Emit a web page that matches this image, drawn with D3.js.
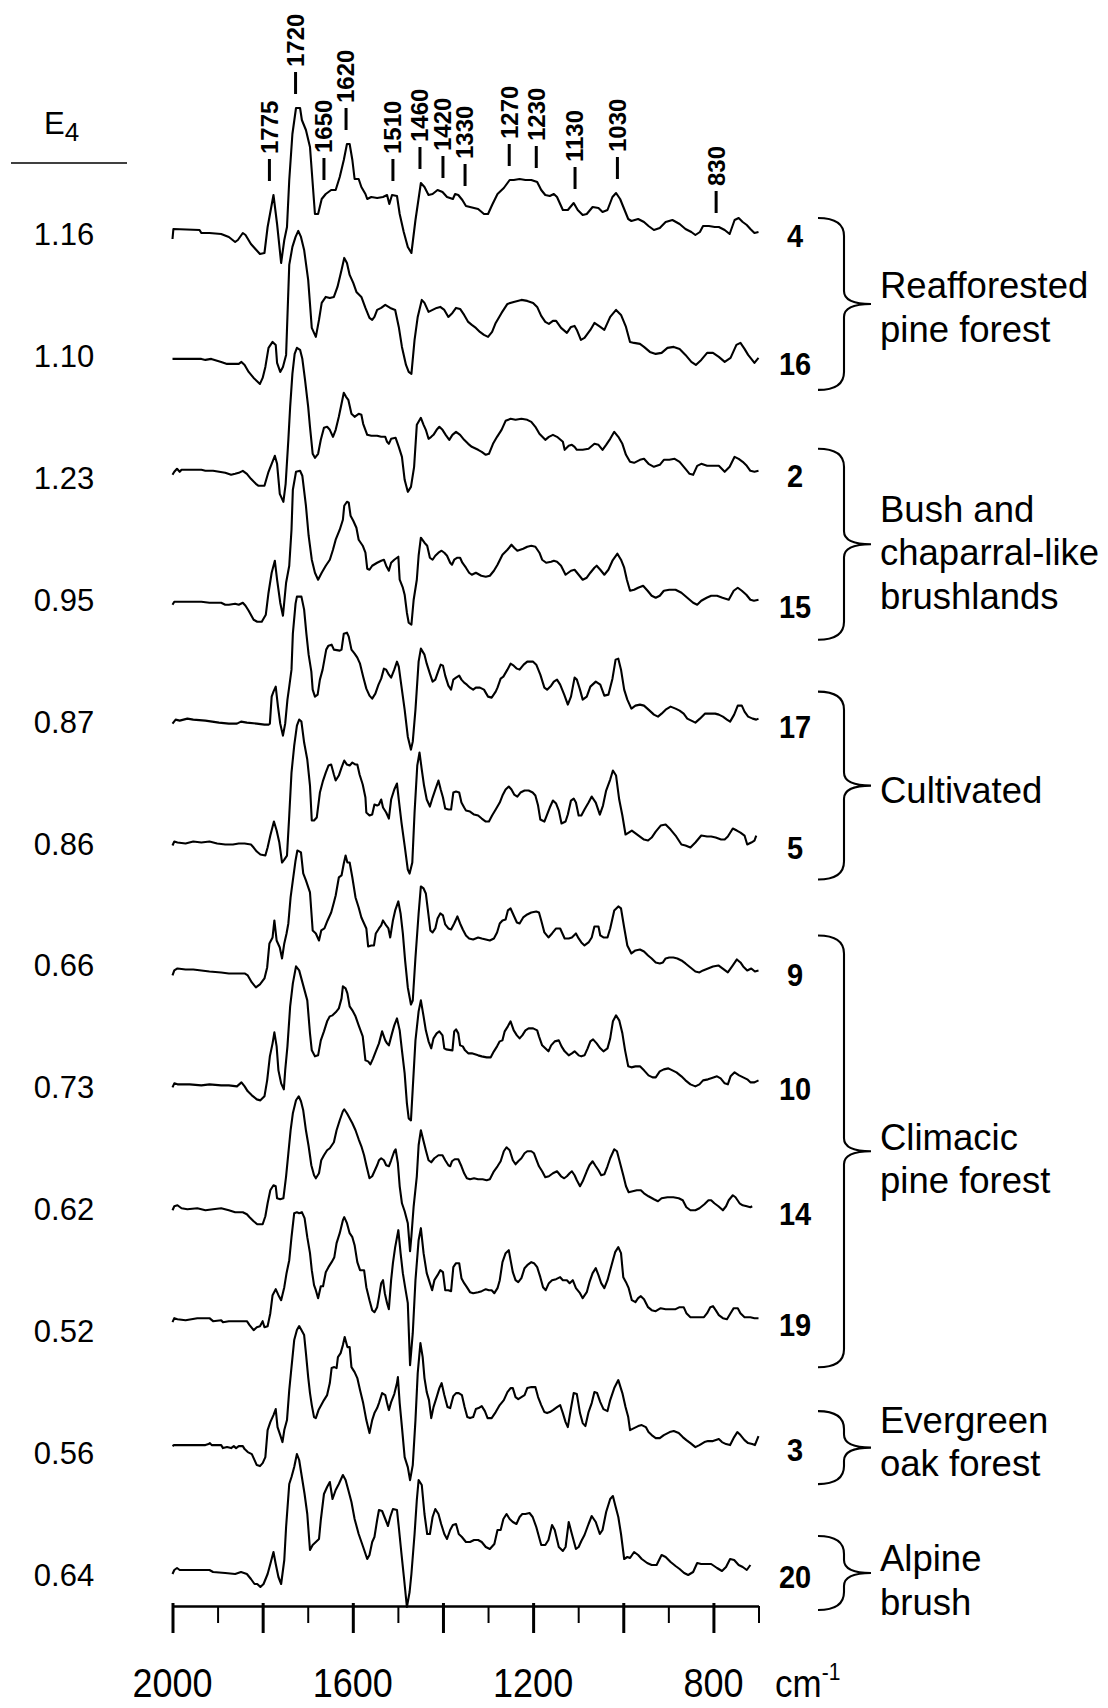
<!DOCTYPE html>
<html>
<head>
<meta charset="utf-8">
<script src="https://cdn.jsdelivr.net/npm/d3@7"></script>
<style>
  body { margin: 0; background: #fff; }
  svg { display: block; }
  text { font-family: "Liberation Sans", Arial, sans-serif; fill: #000; }
</style>
</head>
<body>
<div id="chart"></div>
<script>
// samples, top to bottom
const sampleIds = ["4", "16", "2", "15", "17", "5", "9", "10", "14", "19", "3", "20"];
const e4Values = ["1.16", "1.10", "1.23", "0.95", "0.87", "0.86", "0.66", "0.73", "0.62", "0.52", "0.56", "0.64"];
// small vertical offset of each stacked spectrum (a.u., + = up)
const stackShift = [0, -6, 4, -5, -3, -2, -8, 0, -3, 8, 5, 0];

// land-use groups
const groupNames = [["Reafforested", "pine forest"], ["Bush and", "chaparral-like", "brushlands"], ["Cultivated"],
  ["Climacic", "pine forest"], ["Evergreen", "oak forest"], ["Alpine", "brush"]];
const groupFirst = [0, 2, 4, 6, 10, 11];
const groupLast = [1, 3, 5, 9, 10, 11];

// band markers on top spectrum
const bandLabels = ["1775", "1720", "1650", "1620", "1510", "1460", "1420", "1330", "1270", "1230", "1130", "1030", "830"];
const bandPos = [1785, 1727, 1664, 1615, 1511, 1451, 1400, 1351, 1253, 1193, 1107, 1013, 794];

// axis
const majorTicks = [2000, 1800, 1600, 1400, 1200, 1000, 800];
const minorTicks = [1900, 1700, 1500, 1300, 1100, 900, 700];
const tickLabels = [2000, 1600, 1200, 800];

// spectra: [wavenumber cm-1, intensity a.u.]
const spec4 = [[2000,-8],[1998,2],[1940,1],[1936,-2],[1918,-2],[1892,-3],[1875,-6],[1861,-11],[1855,-9],[1844,-2],[1838,-4],[1826,-13],[1818,-17],[1806,-23],[1796,-22],[1789,4],[1776,36],[1768,7],[1759,-32],[1752,-9],[1746,4],[1741,51],[1734,97],[1726,123],[1717,123],[1713,111],[1704,101],[1695,84],[1684,17],[1677,17],[1669,32],[1660,37],[1648,41],[1638,41],[1629,54],[1620,71],[1613,87],[1607,87],[1601,71],[1596,52],[1587,52],[1581,44],[1572,37],[1568,32],[1559,34],[1546,33],[1533,34],[1524,36],[1519,27],[1513,36],[1502,35],[1496,17],[1487,-1],[1478,-16],[1470,-22],[1461,11],[1449,48],[1441,44],[1432,36],[1423,37],[1412,41],[1401,39],[1391,34],[1378,32],[1373,37],[1366,36],[1357,31],[1349,25],[1340,24],[1322,22],[1309,17],[1300,17],[1291,26],[1279,37],[1265,43],[1252,51],[1243,51],[1230,52],[1217,51],[1204,51],[1191,49],[1182,41],[1173,36],[1163,35],[1154,37],[1147,34],[1134,21],[1123,21],[1110,28],[1101,21],[1090,16],[1081,17],[1068,24],[1055,23],[1046,19],[1035,21],[1024,34],[1016,38],[1007,32],[998,22],[989,12],[982,10],[967,12],[954,9],[944,5],[932,1],[919,3],[906,9],[891,11],[875,7],[862,2],[849,-1],[840,-4],[830,-1],[823,5],[810,5],[797,4],[788,4],[775,1],[764,-3],[753,11],[744,13],[735,9],[726,6],[718,2],[709,-2],[700,-1]];
const spec16 = [[2000,0],[1936,0],[1927,-1],[1914,0],[1892,-3],[1879,-5],[1853,-5],[1847,-3],[1840,-6],[1831,-13],[1820,-19],[1806,-25],[1800,-19],[1794,-8],[1787,11],[1778,17],[1771,14],[1768,-4],[1761,-13],[1755,-8],[1748,4],[1741,94],[1734,112],[1727,122],[1721,128],[1715,122],[1708,109],[1699,79],[1691,31],[1682,22],[1675,39],[1669,56],[1660,62],[1651,61],[1642,62],[1634,72],[1625,89],[1619,101],[1613,96],[1607,84],[1599,76],[1592,67],[1581,62],[1572,51],[1563,41],[1557,39],[1552,42],[1546,49],[1537,51],[1528,54],[1517,51],[1506,49],[1498,32],[1491,12],[1482,-6],[1476,-13],[1470,-15],[1463,19],[1456,42],[1447,59],[1441,56],[1432,47],[1423,49],[1414,51],[1406,52],[1397,49],[1388,42],[1379,46],[1371,51],[1362,50],[1353,44],[1344,37],[1336,34],[1327,31],[1318,27],[1309,24],[1300,22],[1291,27],[1283,36],[1270,46],[1257,55],[1243,57],[1226,59],[1213,58],[1200,56],[1191,52],[1182,43],[1173,37],[1165,35],[1156,38],[1149,38],[1138,31],[1125,26],[1116,32],[1108,33],[1103,29],[1094,19],[1086,21],[1073,29],[1064,36],[1051,32],[1042,29],[1029,42],[1016,49],[1005,44],[994,32],[985,17],[976,16],[963,15],[954,12],[941,7],[928,5],[915,6],[902,11],[888,12],[875,10],[862,4],[849,-3],[839,-6],[827,-1],[814,6],[801,6],[788,2],[775,-3],[762,1],[749,14],[740,16],[731,10],[723,4],[709,-4],[700,1]];
const spec2 = [[2000,-4],[1996,-1],[1990,2],[1984,-1],[1980,1],[1936,1],[1927,0],[1910,0],[1883,-2],[1870,-4],[1861,-3],[1853,-2],[1844,0],[1835,-3],[1826,-8],[1815,-13],[1809,-15],[1796,-15],[1787,-1],[1780,7],[1773,15],[1768,7],[1762,-23],[1754,-31],[1749,-13],[1743,31],[1739,64],[1734,97],[1729,117],[1724,123],[1717,121],[1712,112],[1706,91],[1699,64],[1695,44],[1689,17],[1684,13],[1677,17],[1671,31],[1664,43],[1657,44],[1651,41],[1644,34],[1638,41],[1631,54],[1625,67],[1620,78],[1615,74],[1610,71],[1603,57],[1596,54],[1587,57],[1581,56],[1577,47],[1568,36],[1559,35],[1546,35],[1537,34],[1528,34],[1524,29],[1520,27],[1515,32],[1505,33],[1498,24],[1491,14],[1485,-9],[1478,-21],[1471,-16],[1464,4],[1458,46],[1449,53],[1443,46],[1438,41],[1432,32],[1426,34],[1421,36],[1414,41],[1408,44],[1401,41],[1394,36],[1386,31],[1379,36],[1371,39],[1362,36],[1353,31],[1344,27],[1336,24],[1322,21],[1314,19],[1305,16],[1298,17],[1289,27],[1280,34],[1270,41],[1261,50],[1250,52],[1239,51],[1226,52],[1213,51],[1204,49],[1195,44],[1186,37],[1173,31],[1165,34],[1156,36],[1147,34],[1134,29],[1130,21],[1121,25],[1114,26],[1108,24],[1103,21],[1090,21],[1077,22],[1064,27],[1055,26],[1046,21],[1038,26],[1029,32],[1020,39],[1011,34],[1002,27],[994,16],[985,9],[976,8],[963,11],[954,12],[944,7],[932,4],[919,6],[910,11],[898,11],[886,12],[875,9],[862,2],[853,-3],[845,-4],[836,5],[827,7],[814,5],[801,5],[788,5],[775,-1],[764,4],[753,14],[744,12],[735,9],[726,5],[718,0],[709,-1],[700,0]];
const spec15 = [[2000,-3],[1996,0],[1936,0],[1918,-1],[1892,-1],[1883,-3],[1875,-3],[1861,-2],[1853,-3],[1844,-1],[1838,-4],[1831,-9],[1820,-18],[1812,-20],[1802,-20],[1793,-13],[1787,9],[1780,29],[1773,41],[1768,22],[1761,-1],[1755,-14],[1748,19],[1741,36],[1736,72],[1733,112],[1726,130],[1717,131],[1712,126],[1704,96],[1698,66],[1691,42],[1684,29],[1677,22],[1669,29],[1660,36],[1651,42],[1644,52],[1638,62],[1629,72],[1622,82],[1619,96],[1613,100],[1609,99],[1605,86],[1599,81],[1592,74],[1587,62],[1578,56],[1572,49],[1568,33],[1563,32],[1557,36],[1546,39],[1537,41],[1531,42],[1526,36],[1520,31],[1515,39],[1508,42],[1499,45],[1496,22],[1489,14],[1485,7],[1480,-11],[1476,-21],[1470,-23],[1465,2],[1458,22],[1454,46],[1449,64],[1441,59],[1435,56],[1429,44],[1423,42],[1417,46],[1410,49],[1403,51],[1397,49],[1391,46],[1384,39],[1380,37],[1375,42],[1368,44],[1362,44],[1357,39],[1349,34],[1342,29],[1336,27],[1327,29],[1315,26],[1305,25],[1296,26],[1287,31],[1279,37],[1268,47],[1257,52],[1248,57],[1242,54],[1235,51],[1222,53],[1213,55],[1204,56],[1195,55],[1186,49],[1180,42],[1171,39],[1160,40],[1154,41],[1147,40],[1138,36],[1128,27],[1116,31],[1108,32],[1099,27],[1090,22],[1081,24],[1073,29],[1064,34],[1059,36],[1051,32],[1042,27],[1033,32],[1024,41],[1013,48],[1005,42],[998,34],[992,22],[985,11],[976,12],[967,14],[956,16],[946,11],[937,6],[928,4],[919,6],[910,11],[898,12],[884,12],[871,9],[858,4],[845,-1],[836,-3],[827,1],[815,4],[805,6],[792,6],[780,4],[766,2],[755,11],[746,14],[737,11],[727,7],[718,2],[710,1],[700,2]];
const spec17 = [[2000,-2],[1993,2],[1984,1],[1967,3],[1954,2],[1927,1],[1897,-1],[1875,-2],[1857,-2],[1848,0],[1835,-1],[1813,-2],[1796,-3],[1787,-3],[1784,-2],[1780,25],[1776,30],[1771,35],[1766,15],[1761,-2],[1755,-14],[1750,-2],[1745,22],[1741,35],[1736,52],[1733,88],[1727,118],[1724,125],[1714,125],[1708,112],[1703,88],[1698,67],[1692,50],[1689,32],[1684,25],[1678,27],[1673,42],[1667,52],[1663,62],[1659,72],[1654,76],[1647,77],[1642,72],[1629,71],[1625,72],[1620,88],[1613,89],[1609,85],[1603,72],[1596,68],[1590,64],[1584,58],[1577,45],[1570,33],[1563,26],[1557,23],[1550,28],[1543,37],[1537,43],[1531,53],[1526,52],[1520,47],[1515,44],[1508,52],[1502,60],[1498,55],[1492,35],[1485,12],[1478,-15],[1471,-28],[1467,-20],[1461,12],[1454,60],[1449,73],[1441,67],[1436,58],[1429,48],[1423,40],[1417,42],[1410,51],[1405,57],[1400,56],[1395,46],[1388,36],[1382,32],[1377,42],[1371,44],[1364,46],[1359,42],[1353,39],[1347,37],[1340,34],[1333,32],[1327,34],[1318,34],[1309,32],[1300,25],[1292,24],[1283,30],[1279,34],[1272,43],[1266,45],[1257,52],[1250,58],[1243,56],[1236,53],[1230,52],[1221,57],[1213,60],[1200,60],[1193,57],[1184,47],[1175,34],[1169,32],[1160,36],[1154,40],[1147,42],[1140,37],[1131,27],[1123,17],[1116,25],[1108,44],[1103,42],[1096,32],[1090,22],[1081,25],[1073,35],[1061,40],[1051,37],[1042,26],[1033,27],[1024,43],[1017,62],[1011,63],[1005,52],[998,32],[991,22],[982,13],[973,16],[963,17],[954,16],[944,12],[932,7],[923,5],[915,8],[906,12],[895,15],[884,13],[875,11],[866,8],[858,3],[849,1],[840,-1],[830,3],[819,8],[807,8],[796,8],[788,7],[779,5],[770,2],[763,0],[754,7],[746,16],[737,16],[731,10],[723,5],[713,3],[705,2],[700,3]];
const spec5 = [[2000,-3],[1996,1],[1989,0],[1971,-1],[1954,1],[1936,0],[1918,1],[1901,-1],[1883,-2],[1866,-2],[1853,-1],[1840,-1],[1826,-2],[1820,-5],[1813,-9],[1805,-12],[1794,-13],[1789,-5],[1783,7],[1775,21],[1769,12],[1763,0],[1757,-20],[1752,-17],[1746,-13],[1741,27],[1736,70],[1730,97],[1724,117],[1719,123],[1714,121],[1708,100],[1701,83],[1695,57],[1691,22],[1686,22],[1680,25],[1673,50],[1666,62],[1660,70],[1654,77],[1648,78],[1642,68],[1638,62],[1631,67],[1625,75],[1619,82],[1613,78],[1607,77],[1601,80],[1594,78],[1590,78],[1585,68],[1578,58],[1572,45],[1570,30],[1563,27],[1557,28],[1552,38],[1546,37],[1542,38],[1537,43],[1533,35],[1526,30],[1520,24],[1515,43],[1508,53],[1502,59],[1498,43],[1492,20],[1485,-3],[1478,-27],[1474,-31],[1468,-20],[1463,30],[1457,77],[1452,90],[1447,73],[1442,57],[1436,43],[1429,36],[1423,45],[1417,53],[1410,62],[1405,53],[1400,45],[1395,34],[1388,33],[1382,33],[1377,50],[1371,51],[1364,50],[1359,40],[1353,35],[1349,32],[1340,31],[1331,28],[1322,27],[1314,24],[1305,21],[1298,21],[1291,27],[1283,33],[1274,40],[1268,47],[1261,53],[1254,56],[1248,53],[1242,48],[1235,46],[1228,50],[1219,52],[1210,52],[1201,50],[1195,47],[1189,37],[1184,23],[1175,21],[1169,28],[1163,35],[1156,42],[1149,39],[1143,32],[1137,19],[1128,21],[1123,28],[1116,42],[1110,44],[1105,40],[1099,27],[1093,27],[1086,33],[1077,40],[1070,46],[1061,40],[1052,28],[1045,37],[1038,52],[1029,63],[1023,72],[1016,67],[1009,43],[1002,27],[995,8],[988,10],[981,12],[972,9],[963,6],[954,3],[945,2],[937,5],[928,11],[917,17],[906,18],[895,13],[884,7],[871,-2],[862,-3],[851,-5],[840,0],[827,7],[814,6],[805,6],[795,5],[783,3],[775,3],[768,6],[757,14],[748,12],[740,10],[731,7],[725,-2],[716,0],[709,2],[705,7]];
const spec9 = [[2000,-5],[1996,0],[1989,2],[1971,1],[1954,1],[1936,0],[1918,-1],[1892,-2],[1875,-3],[1840,-3],[1833,-5],[1824,-12],[1815,-17],[1806,-14],[1796,-8],[1790,3],[1785,27],[1778,33],[1774,50],[1769,30],[1762,23],[1757,12],[1752,27],[1747,37],[1743,47],[1738,73],[1733,90],[1727,110],[1723,120],[1715,118],[1710,97],[1704,90],[1695,78],[1689,40],[1682,37],[1675,30],[1670,40],[1663,42],[1656,50],[1648,58],[1642,68],[1638,75],[1631,93],[1625,95],[1620,107],[1616,115],[1612,108],[1607,108],[1601,93],[1594,73],[1587,63],[1581,53],[1575,47],[1570,42],[1566,24],[1559,25],[1553,25],[1549,37],[1542,42],[1537,45],[1533,50],[1526,45],[1521,42],[1517,33],[1511,50],[1506,60],[1499,69],[1494,57],[1489,37],[1484,10],[1478,-17],[1471,-34],[1467,-30],[1461,13],[1454,57],[1449,84],[1443,82],[1438,77],[1432,55],[1428,40],[1423,38],[1417,42],[1412,52],[1406,57],[1400,55],[1395,46],[1388,42],[1382,41],[1375,47],[1368,54],[1362,47],[1356,41],[1349,35],[1342,32],[1333,31],[1322,33],[1314,32],[1305,31],[1296,30],[1287,32],[1280,38],[1274,47],[1268,50],[1261,51],[1256,60],[1250,62],[1243,55],[1236,48],[1230,47],[1222,53],[1213,56],[1204,58],[1193,59],[1187,58],[1182,50],[1175,38],[1166,33],[1158,37],[1149,42],[1140,42],[1134,36],[1130,32],[1121,32],[1114,33],[1105,37],[1099,32],[1093,28],[1086,25],[1077,28],[1070,33],[1064,44],[1055,44],[1051,35],[1044,33],[1035,33],[1029,42],[1020,60],[1011,64],[1005,62],[998,43],[991,25],[982,17],[973,20],[963,21],[954,19],[945,15],[937,12],[928,8],[919,7],[912,8],[906,12],[898,13],[889,13],[880,12],[871,10],[862,7],[851,3],[840,-1],[831,-2],[823,0],[812,2],[801,4],[789,5],[780,2],[768,-2],[757,5],[748,11],[740,8],[734,4],[725,0],[716,2],[708,-1],[700,0]];
const spec10 = [[2000,-3],[1996,1],[1989,0],[1962,0],[1936,-1],[1918,0],[1892,-1],[1875,-1],[1857,-2],[1847,2],[1840,-2],[1833,-7],[1824,-11],[1813,-15],[1805,-16],[1796,-12],[1790,4],[1784,28],[1778,41],[1774,52],[1769,38],[1765,14],[1759,1],[1753,-5],[1750,14],[1745,38],[1739,78],[1733,101],[1726,118],[1719,114],[1713,104],[1707,94],[1701,84],[1695,51],[1691,34],[1684,28],[1677,29],[1671,44],[1664,53],[1657,63],[1651,68],[1645,69],[1638,72],[1631,76],[1625,86],[1622,98],[1616,96],[1612,91],[1607,78],[1601,74],[1594,68],[1587,59],[1578,48],[1572,24],[1566,23],[1561,20],[1555,26],[1549,33],[1542,41],[1535,53],[1528,44],[1524,41],[1520,39],[1513,51],[1508,59],[1502,66],[1496,54],[1491,34],[1485,11],[1480,-19],[1476,-34],[1471,-36],[1467,-4],[1461,44],[1454,73],[1449,84],[1443,68],[1438,54],[1432,43],[1426,36],[1421,46],[1414,51],[1408,53],[1401,49],[1397,36],[1393,35],[1379,34],[1375,53],[1371,55],[1366,51],[1362,39],[1356,38],[1351,34],[1344,31],[1336,31],[1322,29],[1314,28],[1303,27],[1294,27],[1287,33],[1280,38],[1274,43],[1268,44],[1263,53],[1256,58],[1250,63],[1243,54],[1236,49],[1230,46],[1224,49],[1217,54],[1210,56],[1200,56],[1191,54],[1187,48],[1180,39],[1173,36],[1166,33],[1160,39],[1152,43],[1143,44],[1137,38],[1130,33],[1121,29],[1114,31],[1108,33],[1099,29],[1093,28],[1086,29],[1079,36],[1073,43],[1067,45],[1059,41],[1051,36],[1044,33],[1035,36],[1029,46],[1023,63],[1016,69],[1009,64],[1002,51],[996,34],[989,18],[982,17],[973,18],[963,18],[954,14],[944,9],[935,7],[928,7],[919,13],[910,15],[900,16],[891,14],[882,12],[871,8],[862,4],[851,0],[840,-2],[831,0],[823,4],[812,5],[805,6],[792,8],[784,6],[775,1],[768,0],[762,8],[753,12],[743,9],[734,7],[725,5],[718,2],[709,2],[700,4]];
const spec14 = [[2000,-1],[1996,3],[1989,4],[1980,1],[1967,0],[1945,1],[1927,-1],[1910,0],[1892,1],[1875,-1],[1861,-3],[1844,-3],[1835,-5],[1829,-8],[1820,-12],[1812,-15],[1800,-15],[1794,-7],[1789,6],[1783,19],[1776,24],[1771,23],[1768,11],[1761,10],[1754,11],[1748,33],[1743,56],[1738,79],[1733,96],[1726,109],[1720,113],[1715,108],[1710,99],[1704,79],[1698,63],[1692,44],[1686,34],[1682,31],[1675,36],[1670,49],[1664,54],[1657,59],[1651,61],[1642,67],[1636,79],[1629,89],[1622,98],[1619,100],[1613,96],[1607,91],[1601,86],[1594,79],[1587,70],[1581,63],[1575,54],[1570,44],[1563,31],[1557,33],[1552,38],[1546,44],[1542,49],[1537,51],[1531,49],[1526,44],[1520,43],[1515,49],[1508,58],[1505,60],[1500,46],[1496,23],[1491,6],[1485,-2],[1478,-14],[1473,-42],[1470,-27],[1465,3],[1458,33],[1454,64],[1449,79],[1443,68],[1438,59],[1432,49],[1426,47],[1419,51],[1410,54],[1401,54],[1395,49],[1388,44],[1384,43],[1380,48],[1374,50],[1366,50],[1359,43],[1353,36],[1347,31],[1340,30],[1331,31],[1322,30],[1312,30],[1303,29],[1296,30],[1287,38],[1279,43],[1272,48],[1265,58],[1259,62],[1252,59],[1245,49],[1239,45],[1233,48],[1226,51],[1219,56],[1213,58],[1204,58],[1198,56],[1193,50],[1187,43],[1180,38],[1173,32],[1165,33],[1156,36],[1147,38],[1138,33],[1131,31],[1125,33],[1119,36],[1114,38],[1108,34],[1103,29],[1096,23],[1090,28],[1081,38],[1075,44],[1068,48],[1061,43],[1055,39],[1049,34],[1042,35],[1035,43],[1029,51],[1020,60],[1014,58],[1007,46],[1000,34],[994,23],[988,17],[979,18],[970,19],[961,19],[954,16],[944,13],[932,10],[923,8],[915,11],[902,12],[889,12],[877,11],[868,9],[860,2],[851,-1],[840,-1],[831,1],[820,5],[811,9],[805,9],[798,6],[789,3],[779,-1],[772,3],[766,9],[757,14],[751,12],[742,6],[735,4],[726,3],[718,2],[714,3]];
const spec19 = [[2000,-2],[1996,2],[1989,1],[1971,0],[1945,2],[1936,2],[1918,2],[1910,-1],[1892,0],[1888,-2],[1875,-1],[1835,-1],[1829,-5],[1820,-10],[1813,-7],[1806,-6],[1800,-1],[1796,-7],[1789,-6],[1783,7],[1778,25],[1771,31],[1765,25],[1759,20],[1752,33],[1747,47],[1741,60],[1736,83],[1730,107],[1724,108],[1719,107],[1713,108],[1707,102],[1701,83],[1695,67],[1691,50],[1686,35],[1682,30],[1677,22],[1671,34],[1666,34],[1660,48],[1654,53],[1647,58],[1641,63],[1636,77],[1629,87],[1622,100],[1619,103],[1613,97],[1607,87],[1601,83],[1596,75],[1590,58],[1584,50],[1575,50],[1570,33],[1563,20],[1557,10],[1552,8],[1546,13],[1542,23],[1537,37],[1533,40],[1529,27],[1524,17],[1520,11],[1515,40],[1511,57],[1506,73],[1499,90],[1494,67],[1489,47],[1484,33],[1478,17],[1473,-45],[1467,-13],[1461,40],[1454,80],[1449,92],[1443,67],[1436,47],[1429,37],[1424,30],[1419,40],[1412,45],[1406,50],[1400,48],[1395,30],[1388,30],[1382,29],[1377,53],[1371,57],[1364,57],[1359,42],[1353,37],[1347,33],[1340,28],[1333,27],[1322,28],[1314,29],[1305,31],[1298,30],[1292,30],[1286,27],[1279,32],[1274,40],[1268,58],[1261,67],[1254,70],[1250,60],[1245,48],[1239,40],[1233,38],[1226,42],[1219,52],[1213,55],[1204,58],[1198,57],[1191,53],[1184,43],[1178,33],[1172,30],[1165,37],[1158,40],[1149,41],[1140,43],[1134,40],[1125,40],[1119,37],[1112,40],[1105,32],[1096,27],[1090,22],[1081,28],[1075,38],[1068,47],[1061,52],[1055,45],[1049,37],[1042,32],[1035,40],[1029,50],[1023,60],[1018,68],[1011,73],[1005,67],[1000,43],[994,38],[988,32],[981,20],[973,18],[967,22],[961,24],[954,21],[945,13],[937,10],[928,9],[917,12],[906,11],[895,11],[884,11],[875,13],[866,13],[860,7],[851,3],[840,3],[830,3],[821,3],[814,7],[807,13],[801,14],[795,10],[788,5],[779,2],[770,1],[762,7],[755,12],[746,12],[740,7],[731,3],[718,3],[709,2],[700,2]];
const spec3 = [[2000,-1],[1997,0],[1927,0],[1920,1],[1917,2],[1913,0],[1892,0],[1888,-3],[1879,-2],[1870,-3],[1864,-1],[1859,-3],[1853,-1],[1844,-1],[1840,-4],[1833,-7],[1824,-9],[1818,-15],[1813,-20],[1806,-21],[1800,-18],[1794,-12],[1789,15],[1783,23],[1776,30],[1771,36],[1767,18],[1761,10],[1756,3],[1752,15],[1746,25],[1741,55],[1736,78],[1730,105],[1724,115],[1719,119],[1714,115],[1708,110],[1704,92],[1699,68],[1695,52],[1691,40],[1686,28],[1682,27],[1676,35],[1670,40],[1664,45],[1657,50],[1651,62],[1647,77],[1641,78],[1636,77],[1633,88],[1627,92],[1622,100],[1618,108],[1612,98],[1607,98],[1603,78],[1596,73],[1590,67],[1584,55],[1577,42],[1570,25],[1563,12],[1557,25],[1552,32],[1546,37],[1542,42],[1535,52],[1528,50],[1524,42],[1520,35],[1515,43],[1508,51],[1502,62],[1500,68],[1496,42],[1491,18],[1485,-12],[1478,-22],[1473,-35],[1467,-20],[1461,25],[1456,72],[1450,102],[1445,88],[1441,67],[1436,53],[1431,45],[1426,27],[1421,38],[1414,48],[1408,57],[1403,62],[1397,50],[1390,38],[1384,37],[1377,49],[1371,52],[1365,52],[1358,50],[1352,38],[1346,28],[1340,27],[1333,28],[1327,36],[1321,37],[1314,39],[1307,34],[1301,27],[1292,27],[1283,33],[1274,40],[1265,45],[1257,53],[1250,57],[1245,57],[1239,48],[1233,46],[1226,48],[1219,50],[1213,57],[1204,58],[1195,58],[1189,48],[1182,40],[1175,33],[1169,32],[1163,33],[1156,35],[1147,38],[1140,40],[1134,32],[1128,23],[1123,18],[1116,37],[1110,52],[1103,51],[1096,32],[1090,22],[1084,19],[1077,33],[1070,42],[1064,53],[1058,52],[1051,43],[1044,36],[1035,34],[1029,45],[1020,57],[1011,65],[1002,52],[995,38],[989,28],[985,15],[976,17],[967,19],[959,20],[950,18],[944,13],[937,10],[928,7],[919,7],[910,10],[897,13],[888,14],[877,12],[868,8],[860,5],[851,2],[840,-2],[831,0],[820,3],[812,4],[801,4],[788,6],[781,3],[772,1],[763,0],[754,8],[747,13],[740,10],[731,5],[723,2],[714,1],[708,0],[700,9]];
const spec20 = [[2000,-2],[1996,2],[1990,4],[1984,2],[1918,2],[1910,0],[1883,-1],[1861,-2],[1848,0],[1835,-2],[1826,-7],[1818,-12],[1812,-12],[1805,-15],[1798,-12],[1789,-2],[1783,8],[1776,20],[1771,8],[1765,-5],[1759,-12],[1752,12],[1748,45],[1741,88],[1736,95],[1730,105],[1724,118],[1719,112],[1713,95],[1707,78],[1701,58],[1695,22],[1689,27],[1682,30],[1675,33],[1671,52],[1664,78],[1657,85],[1651,90],[1645,73],[1638,82],[1631,88],[1622,97],[1616,92],[1610,82],[1603,70],[1596,53],[1587,38],[1577,25],[1568,13],[1563,17],[1557,30],[1552,35],[1546,52],[1542,62],[1535,61],[1528,53],[1522,46],[1517,55],[1511,63],[1502,62],[1498,45],[1492,18],[1486,-8],[1480,-35],[1474,-20],[1470,-2],[1463,38],[1458,72],[1454,92],[1447,87],[1441,58],[1435,38],[1429,38],[1423,55],[1417,63],[1410,58],[1404,48],[1397,38],[1391,33],[1384,42],[1378,47],[1371,48],[1365,38],[1358,35],[1349,30],[1340,30],[1331,32],[1322,32],[1314,30],[1305,25],[1296,23],[1286,28],[1279,42],[1272,42],[1266,53],[1259,58],[1252,53],[1245,50],[1237,48],[1230,55],[1224,58],[1217,58],[1208,59],[1201,55],[1193,45],[1182,27],[1173,27],[1166,32],[1158,47],[1152,42],[1143,25],[1134,21],[1128,25],[1121,50],[1114,38],[1105,23],[1099,25],[1093,31],[1086,37],[1077,48],[1070,56],[1061,50],[1052,38],[1046,42],[1038,60],[1029,73],[1023,76],[1018,67],[1011,55],[1005,38],[998,13],[991,15],[985,14],[976,20],[967,17],[959,13],[947,9],[937,7],[926,7],[915,17],[906,15],[895,10],[884,6],[875,3],[865,-1],[856,-3],[845,0],[836,9],[827,8],[814,8],[805,8],[792,4],[781,1],[772,5],[763,13],[754,12],[744,7],[735,5],[726,2],[718,7]];

const spectra = [spec4, spec16, spec2, spec15, spec17, spec5, spec9, spec10, spec14, spec19, spec3, spec20];

const W = 1108, H = 1708;
const svg = d3.select("#chart").append("svg").attr("width", W).attr("height", H);

const x = d3.scaleLinear().domain([2000, 700]).range([172.5, 758.5]);
const row = d3.scalePoint().domain(d3.range(sampleIds.length)).range([231, 1572]);
const amp = d3.scaleLinear().domain([0, 100]).range([0, -100]);
const baseY = i => row(i) + amp(stackShift[i]);

// spectra
const line = d3.line().x(d => x(d[0])).y(d => amp(d[1]));
svg.append("g").selectAll("path")
  .data(spectra)
  .join("path")
  .attr("transform", (d, i) => "translate(0," + baseY(i) + ")")
  .attr("d", line)
  .attr("fill", "none")
  .attr("stroke", "#000")
  .attr("stroke-width", 2.1)
  .attr("stroke-linejoin", "round");

// band markers above top spectrum
const marks = svg.append("g");
bandPos.forEach((p, k) => {
  const near = spec4.filter(d => Math.abs(d[0] - p) <= 10).map(d => d[1]);
  const yb = baseY(0) + amp(d3.max(near)) - 14;
  marks.append("line")
    .attr("x1", x(p)).attr("x2", x(p))
    .attr("y1", yb).attr("y2", yb - 22)
    .attr("stroke", "#000").attr("stroke-width", 3);
  marks.append("text")
    .attr("transform", "translate(" + x(p) + "," + (yb - 27) + ") rotate(-90)")
    .attr("dy", "0.35em")
    .style("font-size", "24px")
    .style("font-weight", "bold")
    .text(bandLabels[k]);
});

// E4 header and values
const hdr = svg.append("text").attr("x", 44).attr("y", 134).style("font-size", "31px");
hdr.append("tspan").text("E");
hdr.append("tspan").attr("dy", 7).style("font-size", "26px").text("4");
svg.append("line").attr("x1", 11).attr("x2", 127).attr("y1", 163).attr("y2", 163)
  .attr("stroke", "#000").attr("stroke-width", 1.5);

svg.append("g").selectAll("text")
  .data(e4Values)
  .join("text")
  .attr("x", 64)
  .attr("y", (d, i) => row(i) + 14)
  .attr("text-anchor", "middle")
  .style("font-size", "31px")
  .text(d => d);

// sample numbers
svg.append("g").selectAll("text")
  .data(sampleIds)
  .join("text")
  .attr("transform", (d, i) => "translate(795," + (baseY(i) + 16) + ") scale(1,1.1)")
  .attr("text-anchor", "middle")
  .style("font-size", "29px")
  .style("font-weight", "bold")
  .text(d => d);

// braces + group names (padding per brace and label nudge, in px)
const braceTopPad = [13, 22, 30, 35, 34, 36];
const braceBotPad = [31, 38, 37, 47, 39, 38];
const labelNudge = [3, 8, 4, 7, -6, 7];
const xl = 818, xv = 844, xt = 871;
const braces = svg.append("g");
groupNames.forEach((names, g) => {
  const top = baseY(groupFirst[g]) - braceTopPad[g];
  const bot = baseY(groupLast[g]) + braceBotPad[g];
  const tip = (top + bot) / 2;
  const r1 = 18, r2 = 13;
  const p = d3.path();
  p.moveTo(xl, top);
  p.quadraticCurveTo(xv, top, xv, top + r1);
  p.lineTo(xv, tip - r2);
  p.quadraticCurveTo(xv, tip, xt, tip);
  p.quadraticCurveTo(xv, tip, xv, tip + r2);
  p.lineTo(xv, bot - r1);
  p.quadraticCurveTo(xv, bot, xl, bot);
  braces.append("path").attr("d", p.toString())
    .attr("fill", "none").attr("stroke", "#000").attr("stroke-width", 2.1);
  const n = names.length;
  names.forEach((t, j) => {
    braces.append("text")
      .attr("x", 880)
      .attr("y", tip + labelNudge[g] + 13 + (j - (n - 1) / 2) * 43.5)
      .style("font-size", "36.5px")
      .text(t);
  });
});

// x axis
const axisY = 1606;
const ax = svg.append("g").attr("transform", "translate(0," + axisY + ")");
ax.append("g").call(d3.axisBottom(x).tickValues(majorTicks).tickSize(27).tickSizeOuter(0).tickFormat(""))
  .call(g => g.select(".domain").attr("stroke-width", 2.5))
  .call(g => g.selectAll(".tick line").attr("stroke-width", 3).attr("y1", -3));
ax.append("g").call(d3.axisBottom(x).tickValues(minorTicks).tickSize(17).tickSizeOuter(0).tickFormat(""))
  .call(g => g.select(".domain").remove())
  .call(g => g.selectAll(".tick line").attr("stroke-width", 2));

svg.append("g").selectAll("text")
  .data(tickLabels)
  .join("text")
  .attr("transform", d => "translate(" + x(d) + ",1697) scale(1,1.12)")
  .attr("text-anchor", "middle")
  .style("font-size", "36px")
  .text(d => d);

const unit = svg.append("text").attr("transform", "translate(775,1697) scale(1,1.12)").style("font-size", "35px");
unit.append("tspan").text("cm");
unit.append("tspan").attr("dy", -15).style("font-size", "21px").text("-1");
</script>
</body>
</html>
